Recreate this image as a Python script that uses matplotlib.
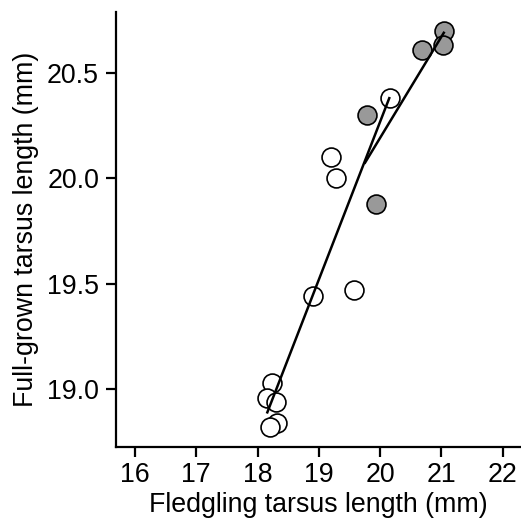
import matplotlib
matplotlib.use("Agg")
import matplotlib.pyplot as plt

plt.rcParams['font.family'] = ['Liberation Sans', 'DejaVu Sans']

# open circles
open_x = [20.16, 19.20, 19.28, 19.57, 18.91, 18.23, 18.15, 18.30, 18.32, 18.21]
open_y = [20.38, 20.10, 20.00, 19.47, 19.44, 19.03, 18.96, 18.94, 18.84, 18.82]

# grey circles
grey_x = [21.04, 20.68, 21.02, 19.78, 19.94]
grey_y = [20.70, 20.61, 20.63, 20.30, 19.88]

# fitted lines (end points)
open_fit_x = [18.16, 20.15]
open_fit_y = [18.89, 20.38]
grey_fit_x = [19.755, 21.04]
grey_fit_y = [20.074, 20.69]

x_ticks = [16, 17, 18, 19, 20, 21, 22]
y_ticks = [19.0, 19.5, 20.0, 20.5]

fig = plt.figure(figsize=(5.21, 5.32), dpi=100)
ax = fig.add_axes([0.2226, 0.1603, 0.7774, 0.8177])

ax.scatter(open_x, open_y, s=185, facecolor='white', edgecolor='black', linewidth=1.2, zorder=3)
ax.scatter(grey_x, grey_y, s=185, facecolor='#999999', edgecolor='black', linewidth=1.2, zorder=3)
# lines drawn over the markers, as in the original
ax.plot(grey_fit_x, grey_fit_y, color='black', lw=1.8, zorder=4)
ax.plot(open_fit_x, open_fit_y, color='black', lw=1.8, zorder=4)

ax.set_xlim(15.69, 22.3)
ax.set_ylim(18.727, 20.79)
ax.set_xticks(x_ticks)
ax.set_yticks(y_ticks)
ax.set_yticklabels([f"{v:.1f}" for v in y_ticks])

for s in ['top', 'right']:
    ax.spines[s].set_visible(False)
for s in ['left', 'bottom']:
    ax.spines[s].set_linewidth(1.6)

ax.tick_params(direction='out', length=7.2, width=1.6, labelsize=19.3)
ax.tick_params(axis='y', pad=5)
ax.tick_params(axis='x', pad=4)

ax.set_xlabel('Fledgling tarsus length (mm)', fontsize=19.3, labelpad=3)
ax.set_ylabel('Full-grown tarsus length (mm)', fontsize=19.3)
ax.yaxis.set_label_coords(-0.19, 0.5, transform=ax.transAxes)

fig.savefig('out.png', dpi=100)
